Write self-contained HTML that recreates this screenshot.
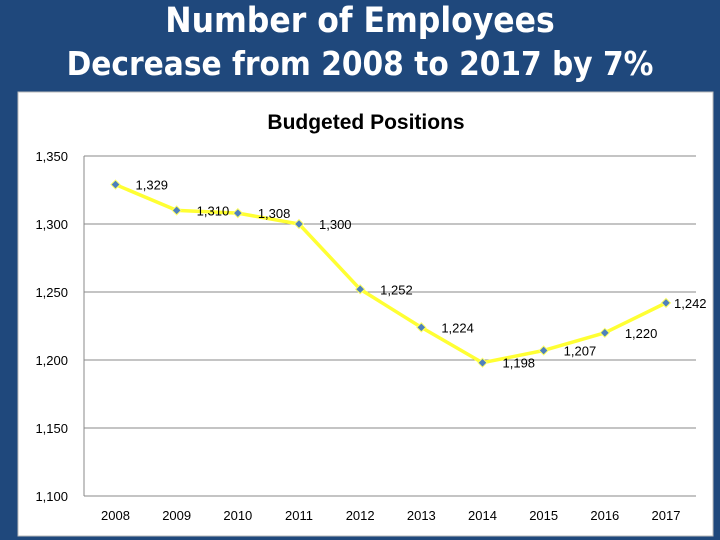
<!DOCTYPE html>
<html><head><meta charset="utf-8"><style>
html,body{margin:0;padding:0}
body{width:720px;height:540px;background:#1f487c;position:relative;overflow:hidden;font-family:"Liberation Sans",sans-serif}
.t{position:absolute;left:0;width:720px;text-align:center;color:#fff;font-weight:bold;font-family:"DejaVu Sans Condensed","Liberation Sans",sans-serif}
</style></head><body>
<div class="t" style="top:0;font-size:35px;line-height:42px;left:0">Number of Employees</div>
<div class="t" style="top:42px;font-size:33px;line-height:44px;left:0">Decrease from 2008 to 2017 by 7%</div>
<svg id="c" width="720" height="540" style="position:absolute;left:0;top:0"></svg>
<script>
const years=["2008","2009","2010","2011","2012","2013","2014","2015","2016","2017"];
const values=[1329,1310,1308,1300,1252,1224,1198,1207,1220,1242];
const labels=["1,329","1,310","1,308","1,300","1,252","1,224","1,198","1,207","1,220","1,242"];
const ticks=[1100,1150,1200,1250,1300,1350];
const tickLabels=["1,100","1,150","1,200","1,250","1,300","1,350"];
const NS="http://www.w3.org/2000/svg";
const svg=document.getElementById('c');
function mk(t,a,p){const e=document.createElementNS(NS,t);for(const k in a)e.setAttribute(k,a[k]);(p||svg).appendChild(e);return e;}
const x0=84,x1=696,yTop=156,yBot=496,vmin=1100,vmax=1350;
const y=v=>yBot-(v-vmin)/(vmax-vmin)*(yBot-yTop);
const x=i=>115.5+i*(666-115.5)/(years.length-1);
let bg=mk('rect',{x:18,y:92,width:695,height:444,fill:'#fff',stroke:'#bbb'});


let tt=mk('text',{x:366,y:129,'text-anchor':'middle','font-size':'21','font-weight':'bold',fill:'#000'});
tt.textContent='Budgeted Positions';


ticks.forEach((t,i)=>{
 let g=mk('line',{x1:x0,x2:x1,y1:y(t),y2:y(t),stroke:'#888','stroke-width':1});
 
 
 let l=mk('text',{x:68,y:y(t)+5,'text-anchor':'end','font-size':'13',fill:'#000'});
 l.textContent=tickLabels[i];
 
 
});
let ax=mk('line',{x1:x0,x2:x0,y1:yTop,y2:yBot,stroke:'#888'});


years.forEach((yr,i)=>{
 let l=mk('text',{x:x(i),y:520,'text-anchor':'middle','font-size':'13',fill:'#000'});
 l.textContent=yr;
 
 
});
const pts=values.map((v,i)=>x(i)+','+y(v)).join(' ');
let ln=mk('polyline',{points:pts,fill:'none',stroke:'#ffff33','stroke-width':3.5,'stroke-linejoin':'round'});


values.forEach((v,i)=>{
 const cx=x(i),cy=y(v);
 let m=mk('polygon',{points:`${cx},${cy-4.5} ${cx+4.5},${cy} ${cx},${cy+4.5} ${cx-4.5},${cy}`,fill:'#4f81bd',stroke:'#ffff66','stroke-width':1});
 
 
 const last=i===values.length-1;
 let l=mk('text',{x:cx+(last?8:20),y:cy+5,'font-size':'13',fill:'#000'});
 l.textContent=labels[i];
 
 
});
</script>
</body></html>
